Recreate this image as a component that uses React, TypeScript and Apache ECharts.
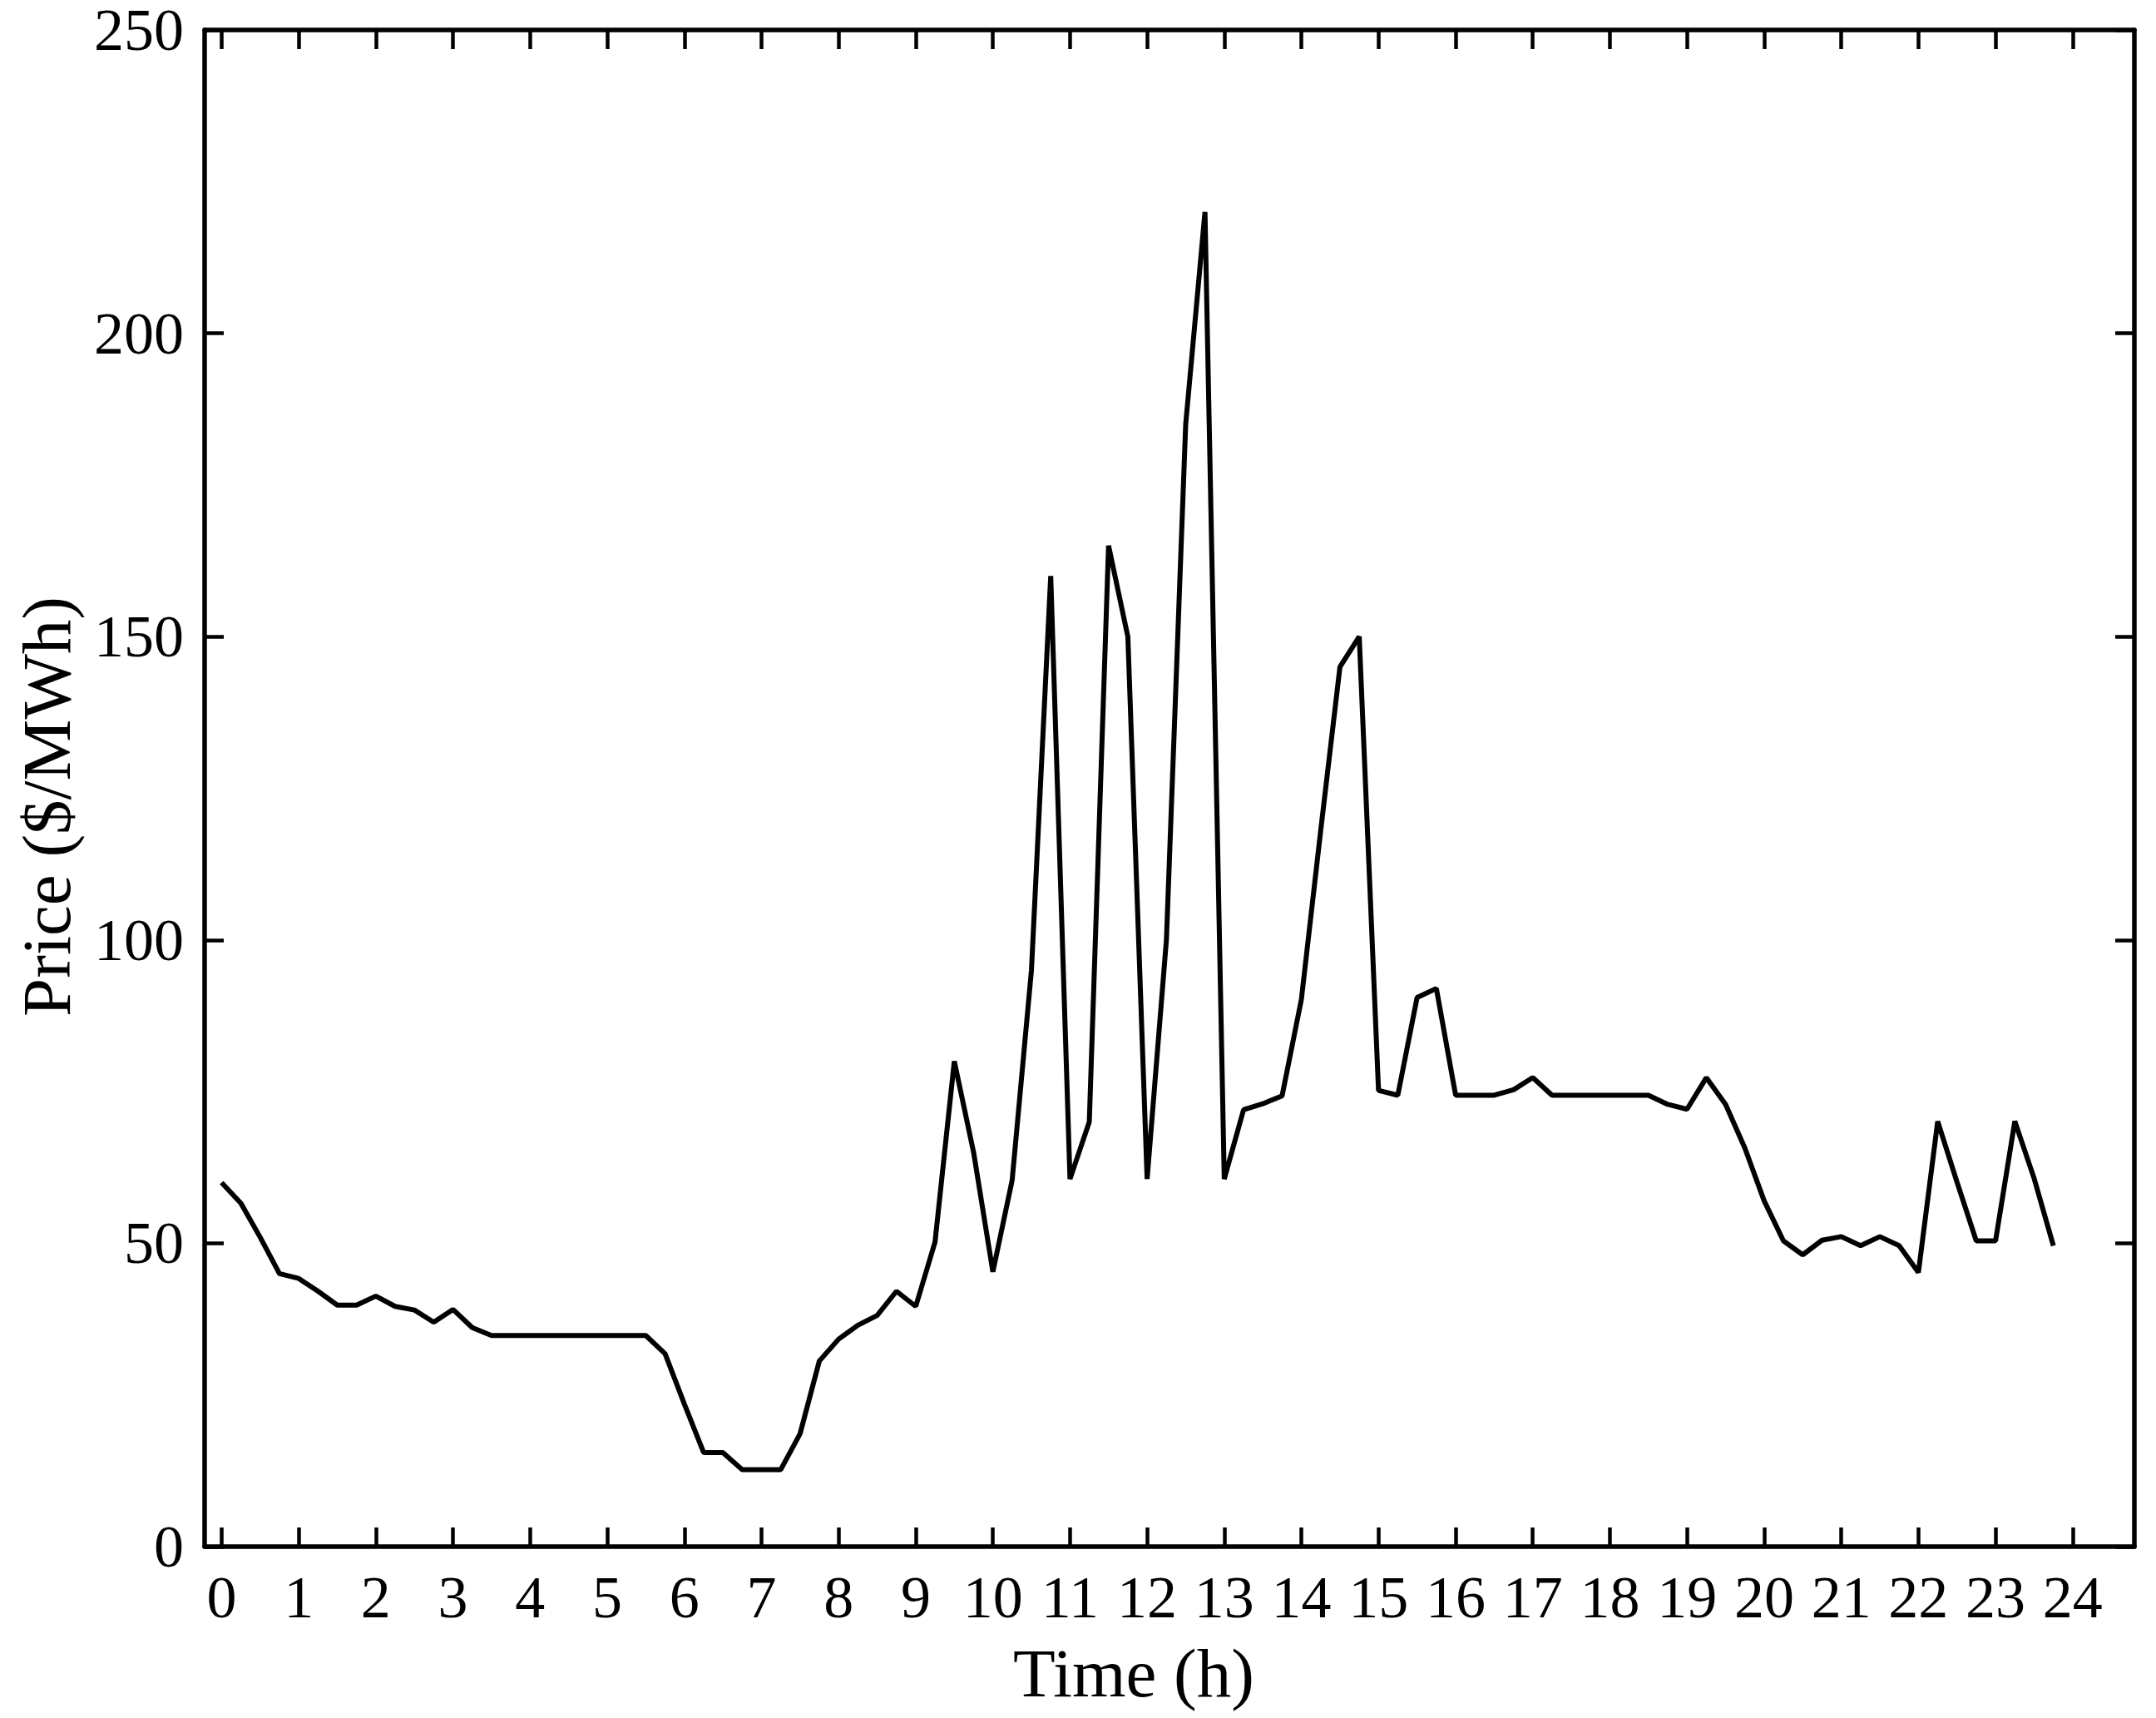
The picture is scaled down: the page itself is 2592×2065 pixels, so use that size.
import { useEffect, useRef } from "react";
import * as echarts from "echarts";

// Price sampled every 15 minutes, one row per hour (0h .. 23h)
const PRICE = [
  60, 56.6, 51, 45,
  44.2, 42.1, 39.8, 39.8,
  41.3, 39.6, 39, 37,
  39.1, 36.1, 34.8, 34.8,
  34.8, 34.8, 34.8, 34.8,
  34.8, 34.8, 34.8, 31.8,
  23.5, 15.5, 15.5, 12.7,
  12.7, 12.7, 18.6, 30.6,
  34.2, 36.5, 38.1, 42.1,
  39.6, 50.2, 80, 65,
  45.3, 60.4, 95, 160,
  60.6, 70, 165, 150,
  60.6, 100, 185, 220,
  60.6, 72, 73, 74.3,
  90.2, 118, 145, 150,
  75.2, 74.4, 90.5, 92,
  74.4, 74.4, 74.4, 75.3,
  77.3, 74.4, 74.4, 74.4,
  74.4, 74.4, 74.4, 72.9,
  72.1, 77.3, 72.9, 65.7,
  57, 50.4, 48.1, 50.5,
  51.1, 49.6, 51.1, 49.6,
  45.2, 70.1, 60.1, 50.4,
  50.4, 70.1, 60.7, 49.6,
];
const STEP_H = 0.25;

const HOUR_TICKS = [
  0, 1, 2, 3, 4, 5, 6, 7, 8, 9, 10, 11, 12,
  13, 14, 15, 16, 17, 18, 19, 20, 21, 22, 23, 24,
];

const X_TITLE = "Time (h)";
const Y_TITLE = "Price ($/MWh)";

const FONT = '"Liberation Serif", "Times New Roman", serif';

export default function App() {
  const chartRef = useRef<HTMLDivElement>(null);

  useEffect(() => {
    if (!chartRef.current) return;
    const chart = echarts.init(chartRef.current, null, { renderer: "svg" });

    const axisLine = { onZero: false, lineStyle: { color: "#000", width: 5.5 } };
    const tickStyle = { color: "#000", width: 4.5 };
    const labelStyle = { fontSize: 72, lineHeight: 58, fontFamily: FONT, color: "#000" };

    chart.setOption({
      animation: false,
      backgroundColor: "#fff",
      grid: { left: 246, right: 26, top: 33, bottom: 206 },
      xAxis: [
        {
          type: "value",
          position: "bottom",
          min: -0.22,
          max: 24.8,
          axisLine,
          axisTick: { inside: true, length: 23, lineStyle: tickStyle, customValues: HOUR_TICKS },
          axisLabel: { ...labelStyle, margin: 32, customValues: HOUR_TICKS },
          splitLine: { show: false },
          name: X_TITLE,
          nameLocation: "middle",
          nameGap: 110,
          nameTextStyle: { fontSize: 83, fontFamily: FONT, color: "#000", padding: [0, 86, 0, 0] },
        },
        {
          type: "value",
          position: "top",
          min: -0.22,
          max: 24.8,
          axisLine,
          axisTick: { inside: true, length: 23, lineStyle: tickStyle, customValues: HOUR_TICKS },
          axisLabel: { show: false },
          splitLine: { show: false },
        },
      ],
      yAxis: [
        {
          type: "value",
          position: "left",
          min: 0,
          max: 250,
          interval: 50,
          axisLine,
          axisTick: { inside: true, length: 23, lineStyle: tickStyle },
          axisLabel: { ...labelStyle, margin: 25 },
          splitLine: { show: false },
          name: Y_TITLE,
          nameLocation: "middle",
          nameGap: 149,
          nameTextStyle: { fontSize: 83, fontFamily: FONT, color: "#000", padding: [0, 44, 0, 0] },
        },
        {
          type: "value",
          position: "right",
          min: 0,
          max: 250,
          interval: 50,
          axisLine,
          axisTick: { inside: true, length: 23, lineStyle: tickStyle },
          axisLabel: { show: false },
          splitLine: { show: false },
        },
      ],
      series: [
        {
          type: "line",
          xAxisIndex: 0,
          yAxisIndex: 0,
          data: PRICE.map((v, i) => [i * STEP_H, v]),
          symbol: "none",
          lineStyle: { color: "#000", width: 6 },
        },
      ],
    });

    return () => {
      chart.dispose();
    };
  }, []);

  return (
    <div
      ref={chartRef}
      style={{ position: "absolute", left: 0, top: 0, width: 2592, height: 2065, background: "#fff" }}
    />
  );
}
